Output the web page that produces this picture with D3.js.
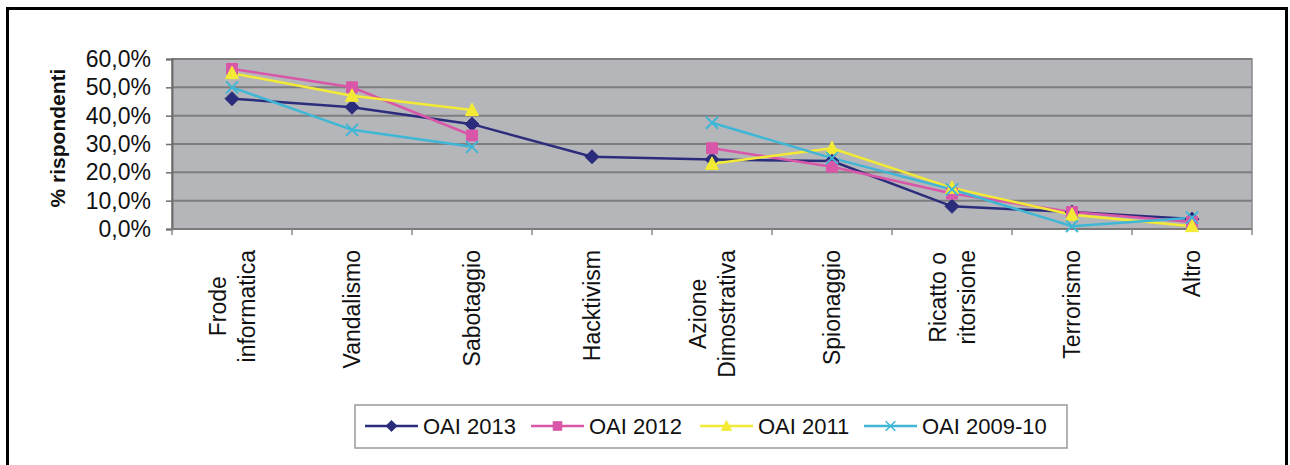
<!doctype html>
<html lang="it">
<head>
  <meta charset="utf-8">
  <title>% rispondenti per tipo di motivazione</title>
  <style>
  body{
    margin: 0;
    background: #fff;
  }
  text{
    font-family: "Liberation Sans", Arial, Helvetica, sans-serif;
  }
  </style>
  <script src="https://d3js.org/d3.v7.min.js"></script>
</head>
<body>
  <div id="chart"></div>
  <script>
  // categories (label lines) and series values (% rispondenti, null = no data)
  var categories = [
    ["Frode", "informatica"],
    ["Vandalismo"],
    ["Sabotaggio"],
    ["Hacktivism"],
    ["Azione", "Dimostrativa"],
    ["Spionaggio"],
    ["Ricatto o", "ritorsione"],
    ["Terrorismo"],
    ["Altro"]
  ];
  var oai2013 = [46, 43, 37, 25.5, 24.5, 24, 8, 6, 3.5];
  var oai2012 = [56.5, 50, 33, null, 28.5, 22, 12.5, 6, 2.5];
  var oai2011 = [55, 47, 42, null, 23, 28.5, 14.5, 5, 1];
  var oai2009 = [50, 35, 29, null, 37.5, 25, 14, 1, 4];
  var seriesNames = ["OAI 2013", "OAI 2012", "OAI 2011", "OAI 2009-10"];
  var yTicks = [0, 0.1, 0.2, 0.3, 0.4, 0.5, 0.6];

  var series = [
    {name: seriesNames[0], values: oai2013, color: "#2c2c7c", shape: "diamond"},
    {name: seriesNames[1], values: oai2012, color: "#d957a8", shape: "square"},
    {name: seriesNames[2], values: oai2011, color: "#f3ea36", shape: "triangle"},
    {name: seriesNames[3], values: oai2009, color: "#3fb6d5", shape: "cross"}
  ];

  // marker outlines, drawn around (0,0)
  var shapes = {
    diamond: "M0,-7L7,0L0,7L-7,0Z",
    square: "M-5.5,-5.5H5.5V5.5H-5.5Z",
    triangle: "M0,-7L6.5,5.5H-6.5Z",
    cross: "M-6,-6L6,6M-6,6L6,-6"
  };

  var W = 1290, H = 465;
  var plot = {left: 172, right: 1252, top: 59, bottom: 229};

  var svg = d3.select("#chart").append("svg")
  .attr("width", W)
  .attr("height", H);

  // outer frame
  svg.append("rect")
  .attr("x", 7.5).attr("y", 8.5)
  .attr("width", 1279).attr("height", 470)
  .attr("fill", "#fff")
  .attr("stroke", "#000")
  .attr("stroke-width", 3);

  var x = d3.scaleBand()
  .domain(d3.range(categories.length))
  .range([plot.left, plot.right])
  .padding(0);

  var y = d3.scaleLinear()
  .domain([0, 0.6])
  .range([plot.bottom, plot.top]);

  var it = d3.formatLocale({decimal: ",", thousands: ".", grouping: [3], currency: ["", "€"]});
  var pct = it.format(".1%");

  // plot background
  svg.append("rect")
  .attr("x", plot.left).attr("y", plot.top)
  .attr("width", plot.right - plot.left)
  .attr("height", plot.bottom - plot.top)
  .attr("fill", "#b4b6b9")
  .attr("stroke", "#8a8a8a")
  .attr("stroke-width", 1.5);

  // gridlines
  svg.append("g").selectAll("line")
  .data(yTicks)
  .enter().append("line")
  .attr("x1", plot.left).attr("x2", plot.right)
  .attr("y1", function(d) { return y(d); })
  .attr("y2", function(d) { return y(d); })
  .attr("stroke", "#7e7e80")
  .attr("stroke-width", 2);

  // y axis
  var yAxis = d3.axisLeft(y)
  .tickValues(yTicks)
  .tickFormat(pct)
  .tickSize(6)
  .tickPadding(15);

  var gy = svg.append("g")
  .attr("transform", "translate(" + plot.left + ",0)")
  .call(yAxis);
  gy.select(".domain").attr("stroke", "#6e6e6e").attr("stroke-width", 2);
  gy.selectAll(".tick line").attr("stroke", "#6e6e6e").attr("stroke-width", 1.5);
  gy.selectAll(".tick text")
  .attr("font-size", 23)
  .attr("fill", "#111")
  .style("font-family", "'Liberation Sans', Arial, sans-serif");

  // y axis title
  svg.append("text")
  .attr("transform", "translate(65," + 138 + ") rotate(-90)")
  .attr("text-anchor", "middle")
  .attr("font-size", 21)
  .attr("font-weight", "bold")
  .attr("fill", "#111")
  .text("% rispondenti");

  // x axis line and ticks at category boundaries
  svg.append("line")
  .attr("x1", plot.left).attr("x2", plot.right)
  .attr("y1", plot.bottom).attr("y2", plot.bottom)
  .attr("stroke", "#7a7a7a")
  .attr("stroke-width", 2);

  var bounds = d3.range(categories.length + 1);
  svg.append("g").selectAll("line")
  .data(bounds)
  .enter().append("line")
  .attr("x1", function(d) { return d < categories.length ? x(d) : x(d - 1) + x.bandwidth(); })
  .attr("x2", function(d) { return d < categories.length ? x(d) : x(d - 1) + x.bandwidth(); })
  .attr("y1", plot.bottom)
  .attr("y2", plot.bottom + 6)
  .attr("stroke", "#8a8a8a")
  .attr("stroke-width", 1.5);

  // category labels, rotated, lines centred inside a block whose top is at y=250
  var lineGap = 29;
  var labels = svg.append("g").selectAll("g")
  .data(categories)
  .enter().append("g");

  labels.each(function(lines, i) {
    var g = d3.select(this);
    var cx = x(i) + x.bandwidth() / 2;
    var texts = g.selectAll("text")
    .data(lines)
    .enter().append("text")
    .attr("font-size", 23)
    .attr("fill", "#111")
    .attr("text-anchor", "middle")
    .attr("dominant-baseline", "central")
    .text(function(d) { return d; });
    var maxLen = 0;
    texts.each(function() { maxLen = Math.max(maxLen, this.getComputedTextLength()); });
    var cy = 250 + maxLen / 2;
    texts.attr("transform", function(d, j) {
      var off = (j - (lines.length - 1) / 2) * lineGap;
      return "translate(" + (cx + off) + "," + cy + ") rotate(-90)";
    });
  });

  // lines
  var line = d3.line()
  .defined(function(d) { return d != null; })
  .x(function(d, i) { return x(i) + x.bandwidth() / 2; })
  .y(function(d) { return y(d / 100); });

  function marker(sel, s) {
    var open = s.shape === "cross";
    sel.attr("d", shapes[s.shape])
    .attr("fill", open ? "none" : s.color)
    .attr("stroke", s.color)
    .attr("stroke-width", open ? 2 : 1);
  }

  series.forEach(function(s) {
    svg.append("path")
    .datum(s.values)
    .attr("d", line)
    .attr("fill", "none")
    .attr("stroke", s.color)
    .attr("stroke-width", 2.5);
  });

  series.forEach(function(s) {
    var pts = s.values.map(function(v, i) { return {v: v, i: i}; })
    .filter(function(d) { return d.v != null; });
    svg.append("g").selectAll("path")
    .data(pts)
    .enter().append("path")
    .attr("transform", function(d) {
      return "translate(" + (x(d.i) + x.bandwidth() / 2) + "," + y(d.v / 100) + ")";
    })
    .call(marker, s);
  });

  // legend
  var legend = svg.append("g");
  legend.append("rect")
  .attr("x", 355).attr("y", 405)
  .attr("width", 712).attr("height", 43)
  .attr("fill", "#fff")
  .attr("stroke", "#9a9a9a")
  .attr("stroke-width", 1.5);

  var legendX = [365, 531, 700, 864];
  series.forEach(function(s, i) {
    var lx = legendX[i];
    var g = legend.append("g").attr("transform", "translate(" + lx + ",426)");
    g.append("line")
    .attr("x1", 0).attr("x2", 53)
    .attr("stroke", s.color)
    .attr("stroke-width", 2.5);
    g.append("path")
    .attr("transform", "translate(26.5,0) scale(0.8)")
    .call(marker, s);
    g.append("text")
    .attr("x", 58)
    .attr("dominant-baseline", "central")
    .attr("font-size", 22)
    .attr("fill", "#111")
    .text(s.name);
  });
  </script>
</body>
</html>
